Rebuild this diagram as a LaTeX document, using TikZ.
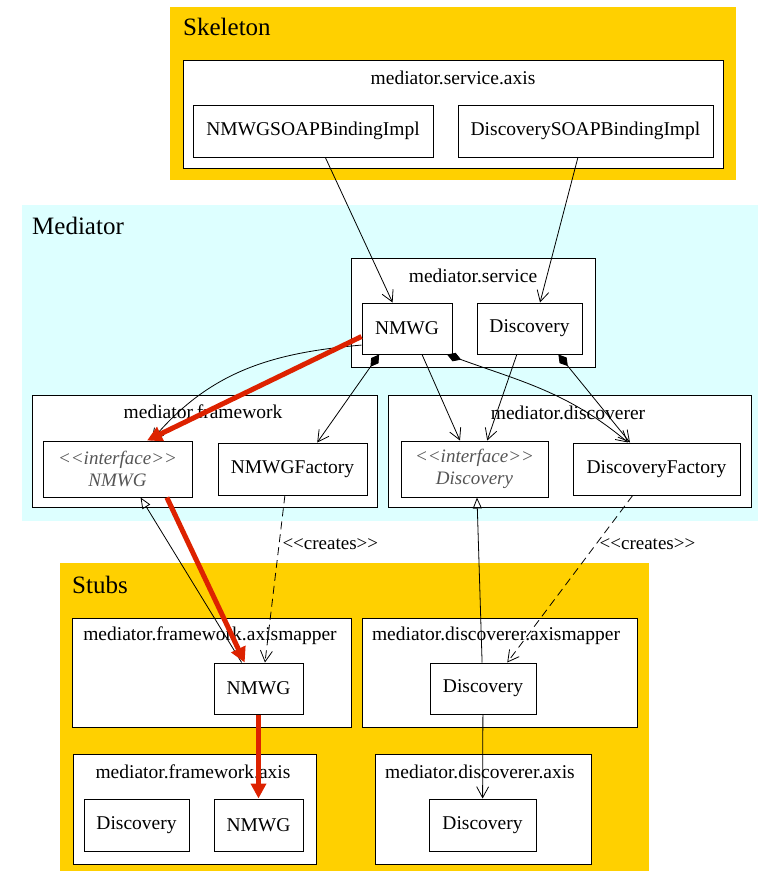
\documentclass[tikz,border=0pt]{standalone}
\usepackage{fontspec}
\setmainfont{Liberation Serif}
\usepackage{xcolor}
\definecolor{stubYellow}{HTML}{FFD000}
\definecolor{mediatorCyan}{HTML}{DDFFFF}
\definecolor{flowRed}{HTML}{DD2200}
\definecolor{ifaceGray}{HTML}{555555}
\usepackage{tikz}
\usetikzlibrary{arrows.meta}
\newcommand{\stereo}[1]{<\kern0pt<#1>\kern0pt>}

\begin{document}
\begin{tikzpicture}[
		x=1pt, y=1pt,
		group/.style={anchor=north west, inner sep=0pt, outer sep=0pt},
		grouptitle/.style={anchor=base west, inner sep=0pt, font=\fontsize{25}{28}\selectfont},
		pkg/.style={draw, fill=white, anchor=north west, inner sep=0pt, line width=1pt},
		pkgtitle/.style={anchor=base, inner sep=0pt, font=\fontsize{19.5}{21}\selectfont},
		cls/.style={
			draw,
			fill=white,
			inner sep=0pt,
			line width=1pt,
			minimum height=52pt,
			font=\fontsize{19.5}{21}\selectfont
		},
		iface/.style={cls, minimum height=56pt, align=center, text=ifaceGray, font=\fontsize{19}{22}\selectfont\itshape},
		dep/.style={-{Straight Barb[length=11pt,width=12pt]}, line width=0.8pt},
		owns/.style={{Diamond[length=15pt,width=9pt]}-{Straight Barb[length=11pt,width=12pt]}, line width=0.8pt},
		impl/.style={-{Triangle[open,length=11pt,width=9pt]}, line width=0.8pt},
		creates/.style={dep, dash pattern=on 8pt off 5pt},
		stereolabel/.style={right, inner sep=3pt, font=\fontsize{19}{21}\selectfont},
		flow/.style={-{Triangle[length=15pt,width=15pt]}, line width=5pt, color=flowRed}
		]
		\useasboundingbox (0,0) rectangle (758,-871);
		
		\node[group, fill=stubYellow, minimum width=566pt, minimum height=173pt] (skeleton) at (170,-7) {};
		\node[grouptitle] (skeletonTitle) at (183,-35) {Skeleton};
		\node[pkg, minimum width=540pt, minimum height=108pt] (serviceAxis) at (183,-60) {};
		\node[pkgtitle] (serviceAxisTitle) at (453,-84) {mediator.service.axis};
		\node[cls, minimum width=240pt] (nmwgSoap) at (313,-131) {NMWGSOAPBindingImpl};
		\node[cls, minimum width=255pt] (discSoap) at (585.5,-131) {DiscoverySOAPBindingImpl};
		
		\node[group, fill=mediatorCyan, minimum width=736pt, minimum height=316pt] (mediator) at (22,-205) {};
		\node[grouptitle] (mediatorTitle) at (32,-234) {Mediator};
		\node[pkg, minimum width=244pt, minimum height=109pt] (service) at (351,-258) {};
		\node[pkgtitle] (serviceTitle) at (473,-282) {mediator.service};
		\node[cls, minimum width=90pt, minimum height=51pt] (svcNmwg) at (407,-328.5) {NMWG};
		\node[cls, minimum width=105pt, minimum height=51pt] (svcDisc) at (529.5,-328.5) {Discovery};
		\node[pkg, minimum width=345pt, minimum height=112pt] (framework) at (32,-395) {};
		\node[pkgtitle] (frameworkTitle) at (203,-418) {mediator.framework};
		\node[iface, minimum width=149pt] (ifNmwg) at (117.5,-469) {\stereo{interface}\\NMWG};
		\node[cls, minimum width=149pt] (nmwgFactory) at (292.5,-469) {NMWGFactory};
		\node[pkg, minimum width=363pt, minimum height=112pt] (discoverer) at (388,-395) {};
		\node[pkgtitle] (discovererTitle) at (568,-419) {mediator.discoverer};
		\node[iface, minimum width=147pt] (ifDisc) at (474.5,-469) {\stereo{interface}\\Discovery};
		\node[cls, minimum width=167pt] (discFactory) at (656.5,-469) {DiscoveryFactory};
		
		\node[group, fill=stubYellow, minimum width=589pt, minimum height=308pt] (stubs) at (60,-563) {};
		\node[grouptitle] (stubsTitle) at (72,-593) {Stubs};
		\node[pkg, minimum width=279pt, minimum height=109pt] (fwMapper) at (72,-618) {};
		\node[pkgtitle] (fwMapperTitle) at (210,-640) {mediator.framework.axismapper};
		\node[cls, minimum width=89pt, minimum height=51pt] (mapNmwg) at (258.5,-688.5) {NMWG};
		\node[pkg, minimum width=275pt, minimum height=109pt] (discMapper) at (362,-618) {};
		\node[pkgtitle] (discMapperTitle) at (496,-640) {mediator.discoverer.axismapper};
		\node[cls, minimum width=106pt, minimum height=51pt] (mapDisc) at (483,-688.5) {Discovery};
		\node[pkg, minimum width=243pt, minimum height=110pt] (fwAxis) at (73,-754) {};
		\node[pkgtitle] (fwAxisTitle) at (193,-778) {mediator.framework.axis};
		\node[cls, minimum width=105pt] (axisDisc) at (136.5,-825) {Discovery};
		\node[cls, minimum width=89pt] (axisNmwg) at (258.5,-825) {NMWG};
		\node[pkg, minimum width=216pt, minimum height=110pt] (discAxis) at (375,-754) {};
		\node[pkgtitle] (discAxisTitle) at (480,-778) {mediator.discoverer.axis};
		\node[cls, minimum width=107pt] (axisDisc2) at (482.5,-825) {Discovery};
		
		\draw[dep] (nmwgSoap.-65) -- (svcNmwg.119);
		\draw[dep] (discSoap.-106) -- (svcDisc.68);
		\draw[dep] (svcNmwg.200) to[out=185, in=50] (ifNmwg.40);
		\draw[owns] (svcNmwg.223) -- (nmwgFactory.47);
		\draw[dep] (svcNmwg.-60) -- (ifDisc.117);
		\draw[dep] (svcDisc.-116) -- (ifDisc.66);
		\draw[owns] (svcNmwg.-33) to[out=-20, in=140] (discFactory.137);
		\draw[owns] (svcDisc.-42) -- (discFactory.135);
		\draw[impl] (mapNmwg.123) -- (ifNmwg.-51);
		\draw[creates] (nmwgFactory.-106) -- node[stereolabel, pos=0.29] (createsNmwg) {\stereo{creates}} (mapNmwg.76);
		\draw[impl] (mapDisc.92) -- (ifDisc.-85);
		\draw[creates] (discFactory.-132) -- node[stereolabel, pos=0.29] (createsDisc) {\stereo{creates}} (mapDisc.47);
		\draw[dep] (mapDisc) -- (axisDisc2);
		
		\draw[flow] (svcNmwg.190) -- (ifNmwg.44);
		\draw[flow] (ifNmwg.-30) -- (mapNmwg.118);
		\draw[flow] (mapNmwg) -- (axisNmwg);
		
	\end{tikzpicture}
\end{document}
